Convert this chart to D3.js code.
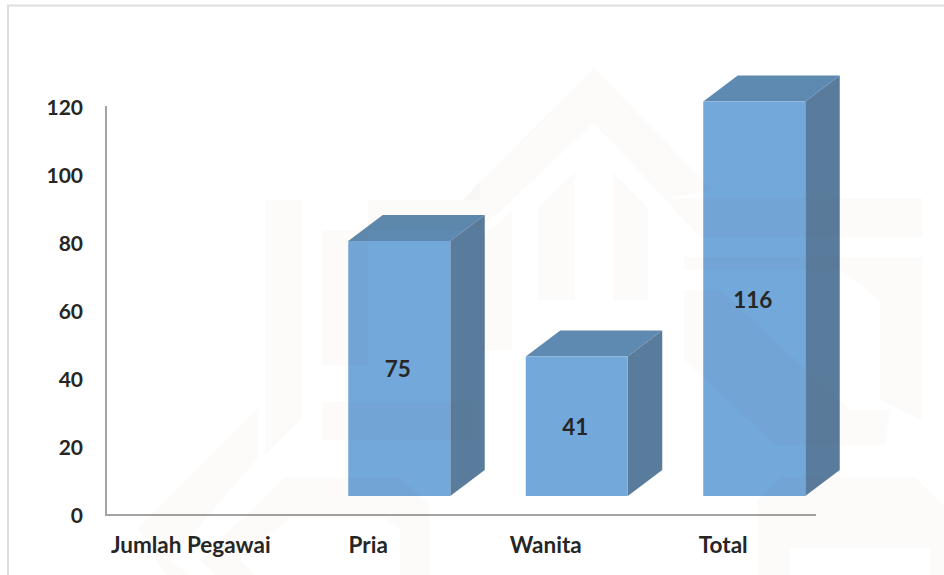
<!DOCTYPE html>
<html>
<head>
<meta charset="utf-8">
<script src="https://cdn.jsdelivr.net/npm/d3@7/dist/d3.min.js"></script>
<style>
html,body{margin:0;padding:0;background:#fff;overflow:hidden}
text{font-family:Lato,"Open Sans",sans-serif;font-weight:700;fill:#262626}
</style>
</head>
<body>
<svg id="chart" width="944" height="575"></svg>
<script>
const categories = ["Jumlah Pegawai", "Pria", "Wanita", "Total"];
const values = [null, 75, 41, 116];
const yTicks = [0, 20, 40, 60, 80, 100, 120];

// Faint background watermark outlines, as they appear in the picture
const watermark = [
  "M594,68L713,190L667,198L922,198L922,237L700,237L594,123L480,230L322,230L322,365L368,365L368,200L463,200Z",
  "M265,200L302,200L302,418L265,455Z",
  "M480,180L463,200L480,200Z",
  "M538,208L575,172L575,300L538,300Z",
  "M613,172L648,208L648,300L613,300Z",
  "M480,240L512,210L512,350L480,350Z",
  "M322,402L470,402L470,440L322,440Z",
  "M684,257L922,257L922,420L880,400L880,300L840,270L684,270Z",
  "M684,290L720,290L850,410L890,410L885,445L775,445L684,360Z",
  "M138,528L258,408L258,458L170,560L190,575L165,575Z",
  "M285,477L400,477L430,505L430,575L400,575L400,530L385,518L290,518L240,560L255,575L215,575L200,560Z",
  "M780,477L915,477L944,505L944,575L930,575L930,548L790,548L790,575L758,575L758,500Z"
];

const svg = d3.select("#chart");
const x = d3.scaleBand().domain(categories).range([103, 813]);
const y = d3.scaleLinear().domain([0, 120]).range([515, 107]);

const barW = 102, depthX = 34.5, depthY = 26, floorGap = 19, barShift = 30;
const rows = categories.map((c, i) => ({c, v: values[i]})).filter(d => d.v !== null);
const barLeft = d => x(d.c) + x.bandwidth() / 2 + barShift - barW / 2;
const barBase = y(0) - floorGap;
const barTop = d => y(d.v) - floorGap;

// Frame
svg.append("path").attr("d", "M8,575V5.5H944").attr("fill", "none")
  .attr("stroke", "#dedede").attr("stroke-width", 2);

// Axes
const yAxis = d3.axisLeft(y).tickValues(yTicks).tickSize(0).tickPadding(23);
const gy = svg.append("g").attr("transform", "translate(106,0)").call(yAxis);
const xAxis = d3.axisBottom(x).tickSize(0).tickPadding(22);
const gx = svg.append("g").attr("transform", "translate(0,515)").call(xAxis);
[gy, gx].forEach(g => {
  g.attr("font-family", null).attr("font-size", null);
  g.selectAll("text").attr("fill", null);
});
gy.selectAll("text").style("font-size", "21px").attr("dy", "0.38em");
gx.selectAll("text").style("font-size", "22.5px").attr("dx", "-1");
gy.select(".domain").attr("stroke", "#a3a3a3").attr("stroke-width", 2)
  .attr("d", `M0,${y(0)}V${y(120) - 1}`);
gx.select(".domain").attr("stroke", "#a3a3a3").attr("stroke-width", 2)
  .attr("d", "M105,0H816");

// Bars
const bars = svg.append("g").selectAll("g").data(rows).join("g");
bars.append("path").attr("fill", "#5e89b0")
  .attr("d", d => `M${barLeft(d)},${barTop(d)}l${depthX},${-depthY}h${barW}l${-depthX},${depthY}Z`);
bars.append("path").attr("fill", "#597c9d")
  .attr("d", d => `M${barLeft(d) + barW},${barTop(d)}l${depthX},${-depthY}V${barBase - depthY}l${-depthX},${depthY}Z`);
bars.append("rect").attr("fill", "#73a8db")
  .attr("x", barLeft).attr("y", barTop).attr("width", barW).attr("height", d => barBase - barTop(d));

// Watermark sits over everything except the text
svg.append("g").selectAll("path").data(watermark).join("path")
  .attr("d", d => d).attr("fill", "#554400").attr("opacity", 0.02);

// Value labels
svg.append("g").selectAll("text").data(rows).join("text")
  .attr("x", d => barLeft(d) + barW / 2 - 1.5)
  .attr("y", d => (barTop(d) + barBase) / 2 + 1)
  .attr("dy", "0.35em").attr("text-anchor", "middle")
  .style("font-size", "22.5px").text(d => d.v);
</script>
</body>
</html>
